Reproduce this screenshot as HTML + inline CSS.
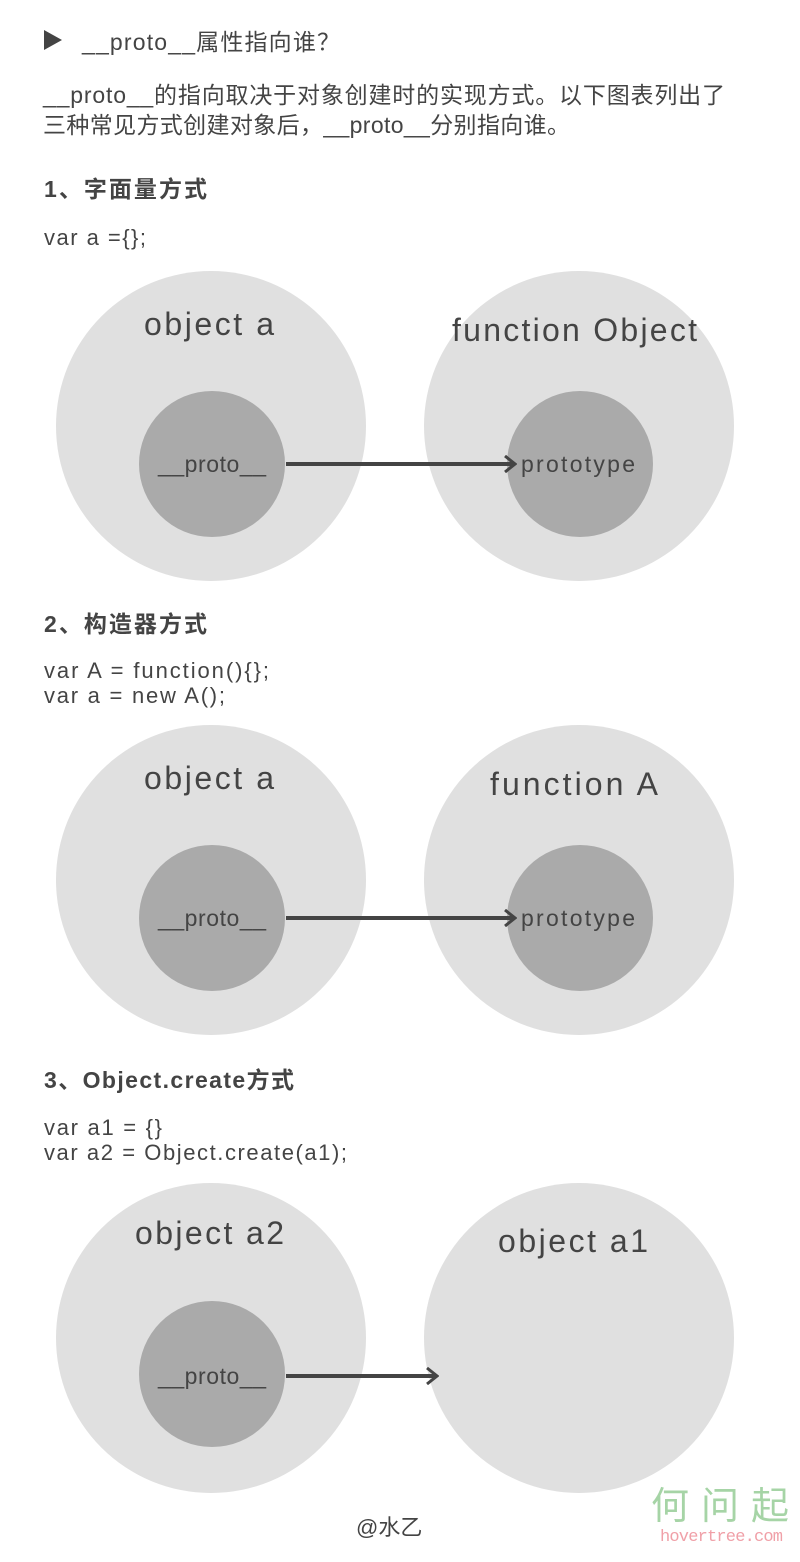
<!DOCTYPE html>
<html><head><meta charset="utf-8"><style>
body{margin:0;background:#fff;}
svg{display:block}
text{font-family:"Liberation Sans","Noto Sans CJK SC",sans-serif;fill:#444}
</style></head><body>
<svg width="800" height="1562" viewBox="0 0 800 1562" xmlns="http://www.w3.org/2000/svg">
<defs><marker id="ar" markerWidth="14" markerHeight="18" refX="12" refY="9" orient="auto" markerUnits="userSpaceOnUse"><path d="M2,1 L12,9 L2,17" fill="none" stroke="#444" stroke-width="3"/></marker></defs>
<polygon points="44,30 44,50 62,40" fill="#444"/>
<text x="82" y="50" font-size="23" textLength="258" lengthAdjust="spacing">__proto__属性指向谁？</text>
<text x="43" y="103" font-size="23" textLength="682" lengthAdjust="spacing">__proto__的指向取决于对象创建时的实现方式。以下图表列出了</text>
<text x="43" y="133" font-size="23" textLength="527" lengthAdjust="spacing">三种常见方式创建对象后，__proto__分别指向谁。</text>
<text x="44" y="197" font-size="23" font-weight="bold" textLength="163" lengthAdjust="spacing">1、字面量方式</text>
<text x="44" y="245" font-size="22" textLength="102" lengthAdjust="spacing">var a ={};</text>
<circle cx="211" cy="426" r="155" fill="#e0e0e0"/>
<circle cx="579" cy="426" r="155" fill="#e0e0e0"/>
<circle cx="212" cy="464" r="73" fill="#aaa"/>
<circle cx="580" cy="464" r="73" fill="#aaa"/>
<text x="144" y="335" font-size="32" textLength="130" lengthAdjust="spacing">object  a</text>
<text x="452" y="341" font-size="32" textLength="245" lengthAdjust="spacing">function  Object</text>
<text x="158" y="472" font-size="23" textLength="108" lengthAdjust="spacing">__proto__</text>
<text x="521" y="472" font-size="23" textLength="114" lengthAdjust="spacing">prototype</text>
<line x1="286" y1="464" x2="515" y2="464" stroke="#444" stroke-width="4" marker-end="url(#ar)"/>
<text x="44" y="632" font-size="23" font-weight="bold" textLength="163" lengthAdjust="spacing">2、构造器方式</text>
<text x="44" y="678" font-size="22" textLength="225" lengthAdjust="spacing">var A = function(){};</text>
<text x="44" y="703" font-size="22" textLength="181" lengthAdjust="spacing">var a = new A();</text>
<circle cx="211" cy="880" r="155" fill="#e0e0e0"/>
<circle cx="579" cy="880" r="155" fill="#e0e0e0"/>
<circle cx="212" cy="918" r="73" fill="#aaa"/>
<circle cx="580" cy="918" r="73" fill="#aaa"/>
<text x="144" y="789" font-size="32" textLength="130" lengthAdjust="spacing">object  a</text>
<text x="490" y="795" font-size="32" textLength="168" lengthAdjust="spacing">function  A</text>
<text x="158" y="926" font-size="23" textLength="108" lengthAdjust="spacing">__proto__</text>
<text x="521" y="926" font-size="23" textLength="114" lengthAdjust="spacing">prototype</text>
<line x1="286" y1="918" x2="515" y2="918" stroke="#444" stroke-width="4" marker-end="url(#ar)"/>
<text x="44" y="1088" font-size="23" font-weight="bold" textLength="250" lengthAdjust="spacing">3、Object.create方式</text>
<text x="44" y="1135" font-size="22" textLength="118" lengthAdjust="spacing">var a1 = {}</text>
<text x="44" y="1160" font-size="22" textLength="303" lengthAdjust="spacing">var a2 = Object.create(a1);</text>
<circle cx="211" cy="1338" r="155" fill="#e0e0e0"/>
<circle cx="579" cy="1338" r="155" fill="#e0e0e0"/>
<circle cx="212" cy="1374" r="73" fill="#aaa"/>
<text x="135" y="1244" font-size="32" textLength="149" lengthAdjust="spacing">object  a2</text>
<text x="498" y="1252" font-size="32" textLength="150" lengthAdjust="spacing">object  a1</text>
<text x="158" y="1384" font-size="23" textLength="108" lengthAdjust="spacing">__proto__</text>
<line x1="286" y1="1376" x2="437" y2="1376" stroke="#444" stroke-width="4" marker-end="url(#ar)"/>
<text x="356" y="1535" font-size="22">@水乙</text>
<text x="651" y="1519" font-size="38" style="fill:#a6d4a6" textLength="138" lengthAdjust="spacing">何问起</text>
<text x="660" y="1541" font-size="17" style="fill:#f0a0a8;font-family:'Liberation Mono',monospace" textLength="123" lengthAdjust="spacing">hovertree.com</text>
</svg>
</body></html>
